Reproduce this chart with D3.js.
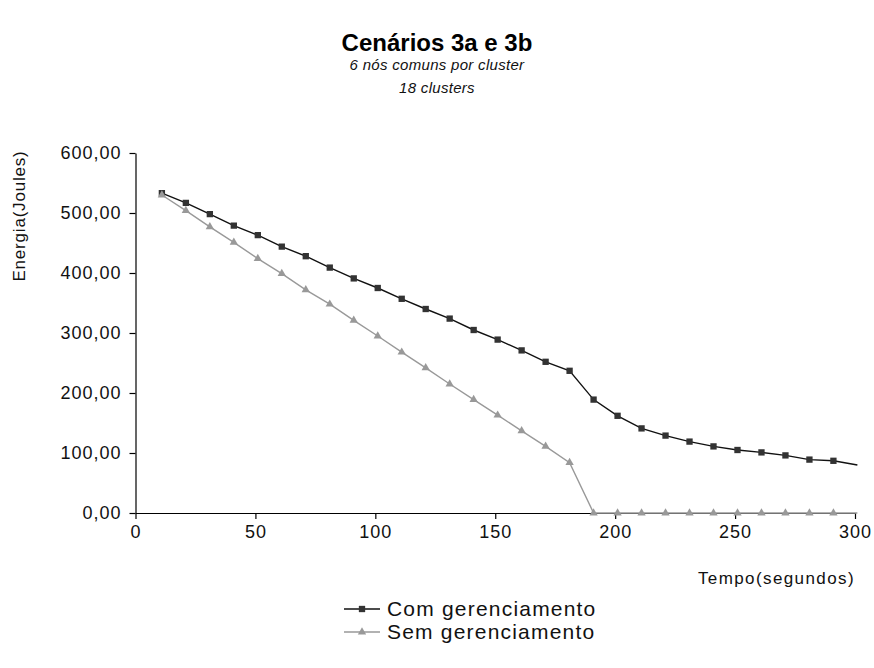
<!DOCTYPE html>
<html>
<head>
<meta charset="utf-8">
<script src="https://cdn.jsdelivr.net/npm/d3@7"></script>
<style>
  html, body { margin: 0; padding: 0; background: #fff; }
  svg { display: block; font-family: "Liberation Sans", Arial, sans-serif; }
</style>
</head>
<body>
<svg id="chart" width="874" height="668"></svg>
<script>
const title = "Cenários 3a e 3b";
const subtitles = ["6 nós comuns por cluster", "18 clusters"];
const yTitle = "Energia(Joules)";
const xTitle = "Tempo(segundos)";
const seriesNames = ["Com gerenciamento", "Sem gerenciamento"];

const tempo = [11, 21, 31, 41, 51, 61, 71, 81, 91, 101, 111, 121, 131, 141, 151,
               161, 171, 181, 191, 201, 211, 221, 231, 241, 251, 261, 271, 281, 291, 301];
const comGerenciamento = [533, 517, 498, 479, 463, 444, 428, 409, 391, 375, 357, 340, 324, 305, 289,
                          271, 252, 237, 189, 162, 141, 129, 119, 111, 105, 101, 96, 89, 87, 80];
const semGerenciamento = [530, 504, 477, 451, 424, 399, 372, 348, 321, 295, 268, 242, 215, 189, 163,
                          137, 111, 84, 0, 0, 0, 0, 0, 0, 0, 0, 0, 0, 0, 0];
const xTicks = [0, 50, 100, 150, 200, 250, 300];
const yTicks = [0, 100, 200, 300, 400, 500, 600];

const svg = d3.select("#chart");
const x = d3.scaleLinear().domain([0, 300]).range([135.5, 855]);
const y = d3.scaleLinear().domain([0, 600]).range([513, 153]);
const locale = d3.formatLocale({decimal: ",", thousands: ".", grouping: [3], currency: ["", ""]});
const fmtY = locale.format(".2f");

// Title
svg.append("text").attr("x", 437).attr("y", 51).attr("text-anchor", "middle")
  .attr("font-size", 24).attr("font-weight", "bold").attr("fill", "#000").text(title);
svg.selectAll("text.sub").data(subtitles).enter().append("text").attr("class", "sub")
  .attr("x", 437).attr("y", (d, i) => 70 + i * 23).attr("text-anchor", "middle")
  .attr("font-size", 15).attr("font-style", "italic").attr("fill", "#111")
  .style("letter-spacing", "0.3px").text(d => d);

// Axes
const tickFont = 18;
const yAxis = svg.append("g").attr("transform", `translate(${x(0)},0)`)
  .call(d3.axisLeft(y).tickValues(yTicks).tickFormat(fmtY).tickSize(6).tickSizeOuter(0).tickPadding(8));
const xAxis = svg.append("g").attr("transform", `translate(0,${y(0)})`)
  .call(d3.axisBottom(x).tickValues(xTicks).tickFormat(d3.format("d")).tickSize(6).tickSizeOuter(0).tickPadding(6));
[xAxis, yAxis].forEach(a => {
  a.select(".domain").attr("stroke", "#000").attr("stroke-width", 1.2);
  a.selectAll(".tick line").attr("stroke", "#000").attr("stroke-width", 1.2);
  a.selectAll(".tick text").attr("font-size", tickFont).attr("fill", "#111")
    .attr("font-family", "Liberation Sans, Arial, sans-serif").style("letter-spacing", "1px");
});

// Axis titles
svg.append("text").attr("transform", `translate(25,${216}) rotate(-90)`).attr("text-anchor", "middle")
  .attr("font-size", 17).attr("fill", "#111").style("letter-spacing", "0.8px").text(yTitle);
svg.append("text").attr("x", 855).attr("y", 584).attr("text-anchor", "end")
  .attr("font-size", 17).attr("fill", "#111").style("letter-spacing", "1.4px").text(xTitle);

// Clip for markers (plot area)
svg.append("clipPath").attr("id", "plotclip").append("rect")
  .attr("x", x(0) - 10).attr("y", y(600) - 10).attr("width", x(300) - x(0) + 8).attr("height", y(0) - y(600) + 20);

const line = d3.line().x(d => x(d[0])).y(d => y(d[1]));
const comData = tempo.map((t, i) => [t, comGerenciamento[i]]);
const semData = tempo.map((t, i) => [t, semGerenciamento[i]]);

const sqSym = d3.symbol().type(d3.symbolSquare).size(40);
const triSym = d3.symbol().type(d3.symbolTriangle).size(30);

// Com gerenciamento
svg.append("path").datum(comData).attr("d", line).attr("fill", "none")
  .attr("stroke", "#111").attr("stroke-width", 1.4);
svg.append("g").attr("clip-path", "url(#plotclip)").selectAll("path").data(comData).enter().append("path")
  .attr("d", sqSym).attr("transform", d => `translate(${x(d[0])},${y(d[1])})`).attr("fill", "#333");

// Sem gerenciamento
svg.append("path").datum(semData).attr("d", line).attr("fill", "none")
  .attr("stroke", "#999").attr("stroke-width", 1.4);
svg.append("g").attr("clip-path", "url(#plotclip)").selectAll("path").data(semData).enter().append("path")
  .attr("d", triSym).attr("transform", d => `translate(${x(d[0])},${y(d[1])})`).attr("fill", "#999");

// Legend
const legend = svg.append("g");
const legColors = ["#111", "#999"];
seriesNames.forEach((name, i) => {
  const ly = 609 + i * 23;
  legend.append("line").attr("x1", 344).attr("x2", 380).attr("y1", ly).attr("y2", ly)
    .attr("stroke", legColors[i]).attr("stroke-width", 1.4);
  legend.append("path").attr("d", i === 0 ? sqSym : triSym)
    .attr("transform", `translate(362,${ly})`).attr("fill", i === 0 ? "#333" : "#999");
  legend.append("text").attr("x", 387).attr("y", ly + 7).attr("font-size", 21).attr("fill", "#111")
    .style("letter-spacing", "1.2px").text(name);
});
</script>
</body>
</html>
